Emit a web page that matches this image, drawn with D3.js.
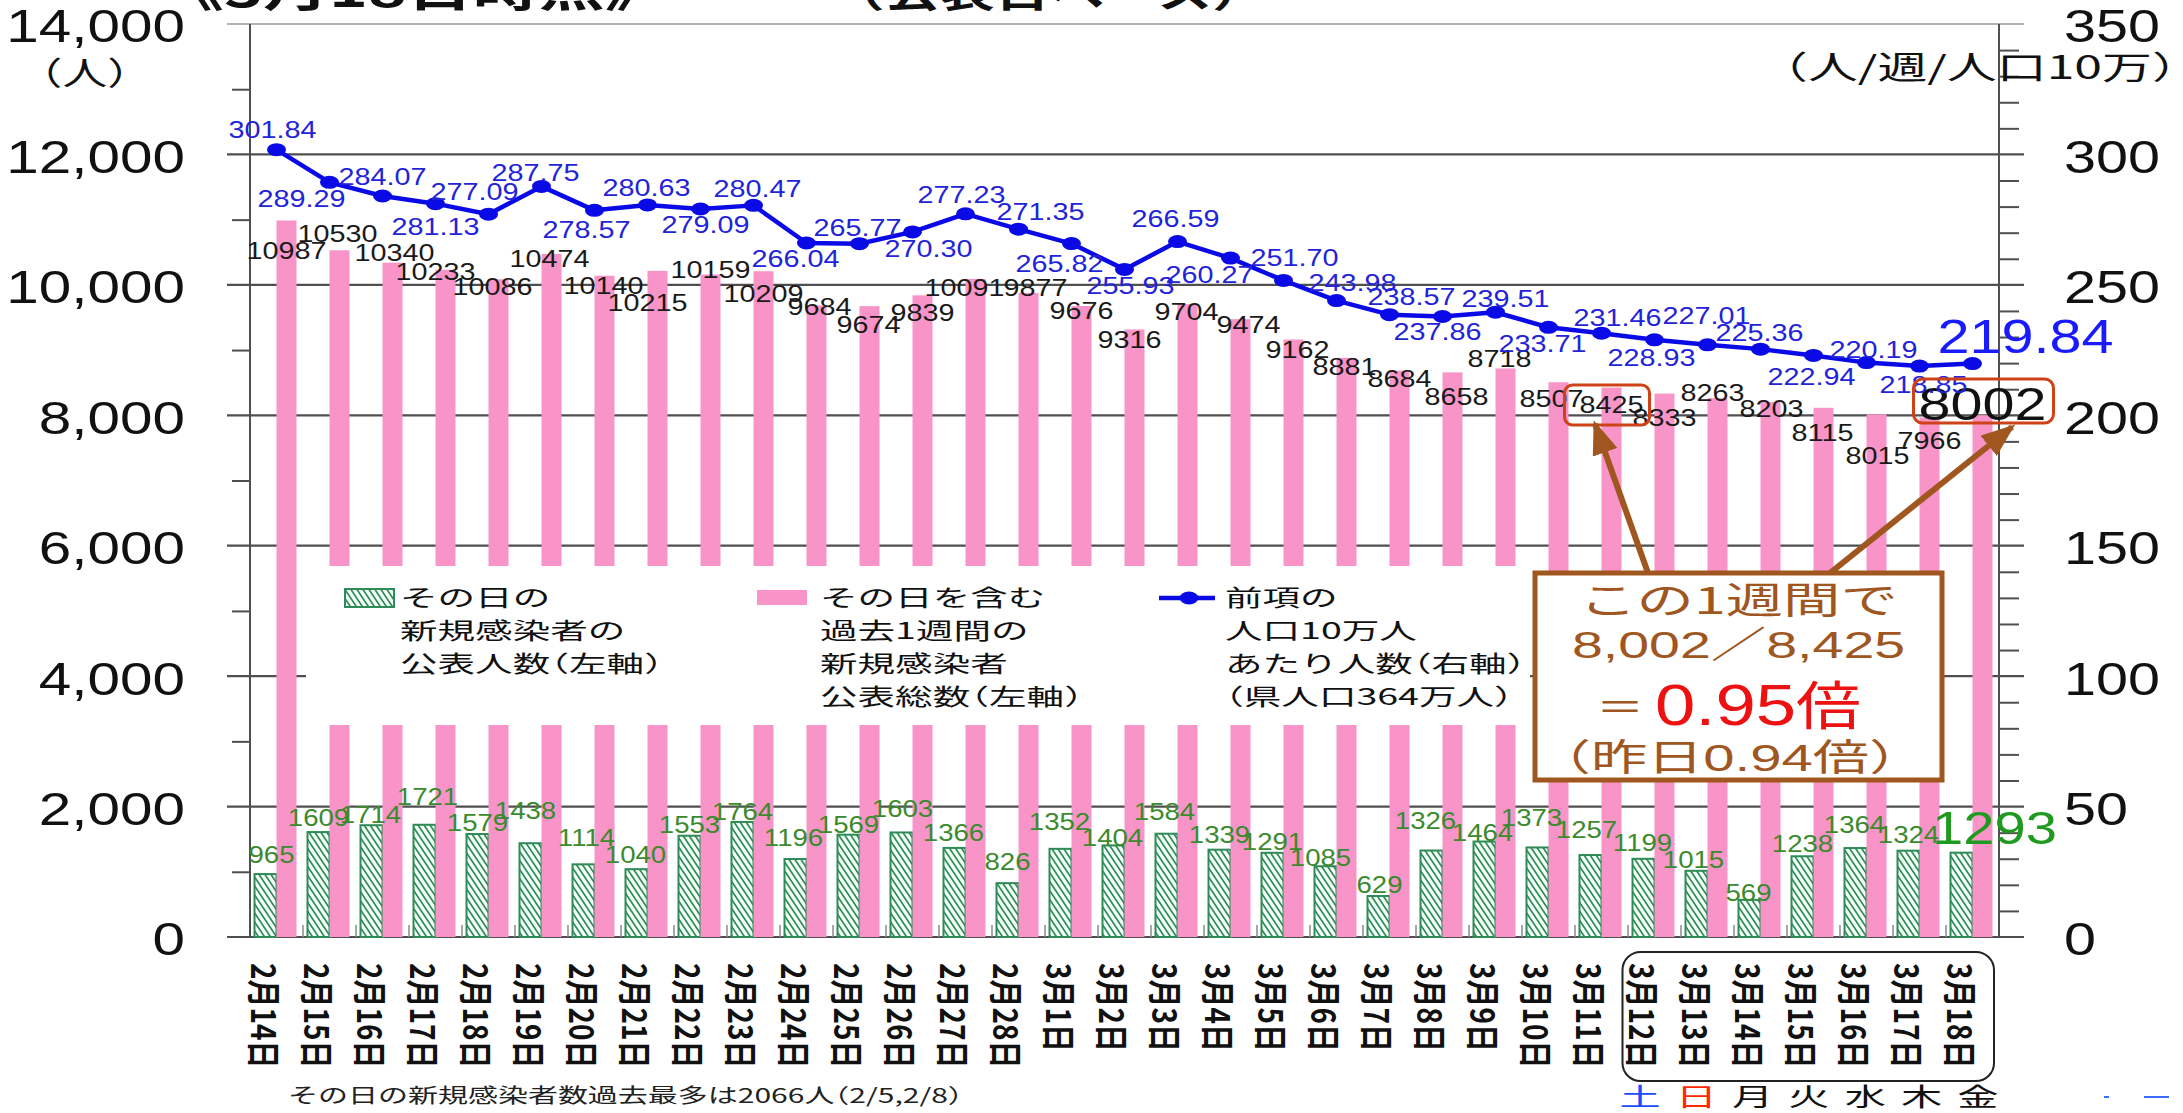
<!DOCTYPE html>
<html><head><meta charset="utf-8">
<script src="https://cdn.jsdelivr.net/npm/d3@7"></script>
<style>html,body{margin:0;padding:0;background:#fff;overflow:hidden}</style>
</head><body><svg id="c" width="2183" height="1113" style="background:#fff"></svg>
<script>
// ---------------- data ----------------
const dates = ["2月14日","2月15日","2月16日","2月17日","2月18日","2月19日","2月20日","2月21日","2月22日","2月23日","2月24日","2月25日","2月26日","2月27日","2月28日",
  "3月1日","3月2日","3月3日","3月4日","3月5日","3月6日","3月7日","3月8日","3月9日","3月10日","3月11日","3月12日","3月13日","3月14日","3月15日","3月16日","3月17日","3月18日"];
const daily = [965,1609,1714,1721,1579,1438,1114,1040,1553,1764,1196,1569,1603,1366,826,
  1352,1404,1584,1339,1291,1085,629,1326,1464,1373,1257,1199,1015,569,1238,1364,1324,1293];
const weekly = [10987,10530,10340,10233,10086,10474,10140,10215,10159,10209,9684,9674,9839,10091,9877,
  9676,9316,9704,9474,9162,8881,8684,8658,8718,8507,8425,8333,8263,8203,8115,8015,7966,8002];
const rate = [301.84,289.29,284.07,281.13,277.09,287.75,278.57,280.63,279.09,280.47,266.04,265.77,270.30,277.23,271.35,
  265.82,255.93,266.59,260.27,251.70,243.98,238.57,237.86,239.51,233.71,231.46,228.93,227.01,225.36,222.94,220.19,218.85,219.84];
const leftTicks = [0,2000,4000,6000,8000,10000,12000,14000];
const leftTickLabels = ["0","2,000","4,000","6,000","8,000","10,000","12,000","14,000"];
const rightTicks = [0,50,100,150,200,250,300,350];
const rightTickLabels = ["0","50","100","150","200","250","300","350"];
const weekdays = ["土","日","月","火","水","木","金"];
const weekdayColors = ["#1a4dff","#ff2a00","#111","#111","#111","#111","#111"];

// label placement nudges (px) relative to each mark
const blueOff = [[-4,-20],[-28,16],[0,-19],[0,23],[-14,-22],[-6,-14],[-8,19],[-1,-17],[5,16],[4,-17],[-11,16],[-2,-16],[16,17],[-4,-19],[22,-17],[-12,20],[6,16],[-2,-23],[-21,17],[11,-23],[16,-18],[22,-18],[-5,15],[10,-14],[-6,16],[16,-16],[-3,18],[-1,-29],[-1,-16],[-2,21],[7,-13],[4,19],[53,-28]];
const blackOff = [[0,30],[-2,-17],[2,-10],[-10,2],[-6,7],[-2,5],[-1,10],[-10,32],[0,-5],[0,22],[3,1],[-1,19],[0,17],[-11,9],[7,-5],[0,5],[-5,10],[-1,8],[8,6],[4,10],[-2,9],[0,8],[4,24],[-6,-10],[-7,16],[0,17],[0,24],[-5,-5],[1,7],[-1,25],[1,41],[0,23],[0,-12]];
const greenOff = [[6,-19],[0,-14],[-1,-11],[3,-28],[0,-11],[-5,-33],[3,-27],[-1,-14],[0,-11],[0,-10],[-2,-21],[0,-10],[1,-24],[-1,-15],[0,-21],[-1,-27],[-1,-8],[-2,-22],[0,-15],[0,-11],[-5,-9],[1,-11],[-6,-30],[-2,-9],[-6,-30],[-4,-25],[-1,-16],[-3,-11],[-1,-7],[0,-13],[-1,-23],[0,-16],[33,-25]];

// ---------------- setup ----------------
const NUM = "'Liberation Sans', Arial, sans-serif";
const JP = "'Noto Sans CJK JP', 'Noto Sans', sans-serif";
const NUMJP = "'Liberation Sans', 'Noto Sans CJK JP', sans-serif";
const PINK = "#f894c8", GREEN = "#2e8b57", BLUE = "#0a0ae6", BROWN = "#a0561f";

const svg = d3.select('#c');
const defs = svg.append('defs');
const pat = defs.append('pattern').attr('id','hatch').attr('patternUnits','userSpaceOnUse').attr('width',6).attr('height',9);
pat.append('rect').attr('width',6).attr('height',9).attr('fill','#f3fff7');
pat.append('path').attr('d','M-1,-1.5 L7,10.5 M-7,-1.5 L1,10.5 M5,-1.5 L13,10.5').attr('stroke',GREEN).attr('stroke-width',1.7);
defs.append('marker').attr('id','ah').attr('markerUnits','userSpaceOnUse').attr('markerWidth',34).attr('markerHeight',26)
  .attr('refX',30).attr('refY',13).attr('orient','auto')
  .append('path').attr('d','M0,0 L34,13 L0,26 Z').attr('fill',BROWN);

const x = d3.scaleBand().domain(dates).range([250,1999]).padding(0);
const xc = d => x(d) + x.bandwidth()/2;
const yL = d3.scaleLinear().domain([0,14000]).range([937,24]);
const yR = d3.scaleLinear().domain([0,350]).range([937,24]);

// full-width brackets rendered proportionally (like a proportional Japanese font)
function fillText(t, str){
  const open = "（《", close = "）》";
  let buf = "";
  const flush = () => { if(buf){ t.append('tspan').text(buf); buf = ""; } };
  for(const ch of str){
    if(open.includes(ch)){ flush(); t.append('tspan').attr('dx','-0.5em').text(ch); }
    else if(close.includes(ch)){ flush(); t.append('tspan').style('letter-spacing','-0.5em').text(ch); }
    else buf += ch;
  }
  flush();
}
function T(parent, px, py, str, o){
  const t = parent.append('text')
    .attr('transform', `translate(${px},${py}) scale(${o.sx||1},1)${o.rot?` rotate(${o.rot})`:''}`)
    .attr('font-size', o.size).attr('text-anchor', o.anchor||'start')
    .attr('fill', o.fill||'#111').attr('font-family', o.family||NUM)
    .attr('font-weight', o.weight||'normal');
  if(o.dy) t.attr('dy', o.dy);
  if(o.db) t.attr('dominant-baseline', o.db);
  fillText(t, str);
  return t;
}

// ---------------- grid ----------------
const grid = svg.append('g');
grid.selectAll('line').data(leftTicks).join('line')
  .attr('x1',227).attr('x2',2024).attr('y1',d=>yL(d)).attr('y2',d=>yL(d))
  .attr('stroke', d=>d===14000?'#9a9a9a':'#4f4f4f').attr('stroke-width', d=>d===14000?1.6:2.2);

// minor ticks (axes)
const axL = svg.append('g').attr('transform','translate(250,0)')
  .call(d3.axisLeft(yL).tickValues(d3.range(1000,14000,2000)).tickSize(18).tickFormat(''));
const axR = svg.append('g').attr('transform','translate(1999,0)')
  .call(d3.axisRight(yR).tickValues(d3.range(10,350,10).filter(v=>v%50!==0)).tickSize(20).tickFormat(''));
[axL,axR].forEach(a=>{ a.select('.domain').remove(); a.selectAll('line').attr('stroke','#4f4f4f').attr('stroke-width',2); });

// ---------------- bars ----------------
const bars = svg.append('g');
bars.selectAll('rect.g').data(daily).join('rect').attr('class','g')
  .attr('x',(d,i)=>xc(dates[i])-22).attr('width',22)
  .attr('y',d=>yL(d)).attr('height',d=>yL(0)-yL(d))
  .attr('fill','url(#hatch)').attr('stroke',GREEN).attr('stroke-width',2);
bars.selectAll('rect.p').data(weekly).join('rect').attr('class','p')
  .attr('x',(d,i)=>xc(dates[i])).attr('width',20)
  .attr('y',d=>yL(d)).attr('height',d=>yL(0)-yL(d))
  .attr('fill',PINK);

// x ticks at band boundaries
svg.append('g').selectAll('line').data(dates.slice(1)).join('line')
  .attr('x1',d=>x(d)).attr('x2',d=>x(d)).attr('y1',925).attr('y2',937)
  .attr('stroke','#8a8a8a').attr('stroke-width',1.5);

// axis lines
svg.append('line').attr('x1',250).attr('x2',250).attr('y1',yL(14000)).attr('y2',yL(0)).attr('stroke','#4f4f4f').attr('stroke-width',2);
svg.append('line').attr('x1',1999).attr('x2',1999).attr('y1',yR(350)).attr('y2',yR(0)).attr('stroke','#4f4f4f').attr('stroke-width',2);

// ---------------- legend ----------------
const lg = svg.append('g');
lg.append('rect').attr('x',306).attr('y',566).attr('width',1224).attr('height',159).attr('fill','#fff');
lg.append('rect').attr('x',345).attr('y',589).attr('width',49).attr('height',18).attr('fill','url(#hatch)').attr('stroke',GREEN).attr('stroke-width',2);
lg.append('rect').attr('x',757).attr('y',590).attr('width',50).attr('height',15).attr('fill',PINK);
lg.append('line').attr('x1',1159).attr('x2',1215).attr('y1',598).attr('y2',598).attr('stroke',BLUE).attr('stroke-width',4.5);
lg.append('ellipse').attr('cx',1189).attr('cy',598).attr('rx',9.5).attr('ry',6.5).attr('fill',BLUE);
const legCols = [
  {x:400, lines:["その日の","新規感染者の","公表人数（左軸）"]},
  {x:820, lines:["その日を含む","過去1週間の","新規感染者","公表総数（左軸）"]},
  {x:1225, lines:["前項の","人口10万人","あたり人数（右軸）","（県人口364万人）"]}
];
const legY = [597,630,663,696];
legCols.forEach(c=>c.lines.forEach((s,k)=>{
  T(lg, c.x, legY[k]+8.6, s, {size:22.5, sx:1.67, family:JP, fill:'#111'});
}));

// ---------------- line ----------------
const lineG = svg.append('g');
lineG.append('path').datum(rate)
  .attr('d', d3.line().x((d,i)=>xc(dates[i])).y(d=>yR(d)))
  .attr('fill','none').attr('stroke',BLUE).attr('stroke-width',4.5).attr('stroke-linejoin','round');
lineG.selectAll('ellipse').data(rate).join('ellipse')
  .attr('cx',(d,i)=>xc(dates[i])).attr('cy',d=>yR(d)).attr('rx',9.5).attr('ry',6.5).attr('fill',BLUE);

// ---------------- data labels ----------------
const labG = svg.append('g');
const last = dates.length-1;
weekly.forEach((v,i)=>{
  const px = xc(dates[i])+10+blackOff[i][0], py = yL(v)+blackOff[i][1];
  if(i===last) T(labG, px, py, String(v), {size:46, sx:1.25, anchor:'middle', dy:'0.36em', fill:'#111'});
  else T(labG, px, py, String(v), {size:23, sx:1.25, anchor:'middle', dy:'0.36em', fill:'#1a1a1a'});
});
rate.forEach((v,i)=>{
  const px = xc(dates[i])+blueOff[i][0], py = yR(v)+blueOff[i][1];
  if(i===last) T(labG, px, py, v.toFixed(2), {size:48, sx:1.2, anchor:'middle', dy:'0.36em', fill:'#1a1aff'});
  else T(labG, px, py, v.toFixed(2), {size:23, sx:1.25, anchor:'middle', dy:'0.36em', fill:'#2323d8'});
});
daily.forEach((v,i)=>{
  const px = xc(dates[i])-11+greenOff[i][0], py = yL(v)+greenOff[i][1];
  if(i===last) T(labG, px, py, String(v), {size:46, sx:1.22, anchor:'middle', dy:'0.36em', fill:'#1f9a1f'});
  else T(labG, px, py, String(v), {size:23, sx:1.2, anchor:'middle', dy:'0.36em', fill:'#3a8a2e'});
});

// red rounded boxes around compared values
const i11 = dates.indexOf("3月11日");
labG.append('rect').attr('x',xc(dates[i11])-37).attr('y',385).attr('width',85).attr('height',40).attr('rx',8)
  .attr('fill','none').attr('stroke','#cf4217').attr('stroke-width',3);
labG.append('rect').attr('x',xc(dates[last])-59).attr('y',379).attr('width',140).attr('height',44).attr('rx',9)
  .attr('fill','none').attr('stroke','#cf4217').attr('stroke-width',3);

// ---------------- callout ----------------
const co = svg.append('g');
co.append('rect').attr('x',1535).attr('y',573).attr('width',407).attr('height',207)
  .attr('fill','#fff').attr('stroke',BROWN).attr('stroke-width',5);
co.append('line').attr('x1',1648).attr('y1',573).attr('x2',1595).attr('y2',424)
  .attr('stroke',BROWN).attr('stroke-width',6).attr('marker-end','url(#ah)');
co.append('line').attr('x1',1830).attr('y1',573).attr('x2',2012).attr('y2',427)
  .attr('stroke',BROWN).attr('stroke-width',6).attr('marker-end','url(#ah)');
const cx0 = 1738.5;
T(co, cx0, 614, "この1週間で", {size:37, sx:1.55, anchor:'middle', family:JP, fill:BROWN});
T(co, cx0, 658, "8,002／8,425", {size:37, sx:1.5, anchor:'middle', family:NUMJP, fill:BROWN});
T(co, 1620, 721, "＝", {size:37, sx:1.3, anchor:'middle', family:JP, fill:BROWN});
const big = T(co, 1655, 725, "0.95", {size:58, sx:1.25, family:NUMJP, fill:'#ee1111'});
big.append('tspan').attr('font-size',52).attr('font-family',JP).text("倍");
T(co, 1744, 771, "（昨日0.94倍）", {size:37, sx:1.52, anchor:'middle', family:NUMJP, fill:BROWN});

// ---------------- axes labels ----------------
const axT = svg.append('g');
leftTicks.forEach((v,k)=>T(axT, 185, yL(v), leftTickLabels[k], {size:46, sx:1.27, anchor:'end', dy:'0.4em', fill:'#111'}));
rightTicks.forEach((v,k)=>T(axT, 2064, yR(v), rightTickLabels[k], {size:46, sx:1.25, anchor:'start', dy:'0.4em', fill:'#111'}));
T(axT, 40, 85, "（人）", {size:32, sx:1.4, family:JP, fill:'#111'});
T(axT, 1783, 79, "（人/週/人口10万）", {size:32, sx:1.56, family:JP, fill:'#111'});

// x labels (rotated)
dates.forEach(d=>T(axT, xc(d)-10, 963, d, {size:28, sx:1.2, rot:90, db:'central', family:JP, weight:'bold', fill:'#111'}));
// week box
const i12 = dates.indexOf("3月12日");
axT.append('rect').attr('x',x(dates[i12])-5.5).attr('y',952).attr('width',1994-(x(dates[i12])-5.5)).attr('height',129).attr('rx',18)
  .attr('fill','none').attr('stroke','#222').attr('stroke-width',2);
weekdays.forEach((w,k)=>T(axT, xc(dates[i12+k])-14.5+k*3.33, 1105.5, w, {size:25, sx:1.65, anchor:'middle', family:JP, fill:weekdayColors[k]}));

// footnote
T(axT, 288, 1103, "その日の新規感染者数過去最多は2066人（2/5,2/8）", {size:20, sx:1.5, family:JP, fill:'#222'});

// titles (clipped at top, as in the source)
T(axT, 191, 7, "《3月18日時点》", {size:44, sx:1.5, family:JP, weight:'bold', fill:'#111'});
T(axT, 857, 7, "（公表日ベース）", {size:38, sx:1.45, family:JP, weight:'bold', fill:'#111'});

// small blue marks bottom right
axT.append('line').attr('x1',2104).attr('x2',2109).attr('y1',1097).attr('y2',1097).attr('stroke','#3b6cff').attr('stroke-width',2);
axT.append('line').attr('x1',2144).attr('x2',2169).attr('y1',1097).attr('y2',1097).attr('stroke','#3b6cff').attr('stroke-width',2);
</script></body></html>
